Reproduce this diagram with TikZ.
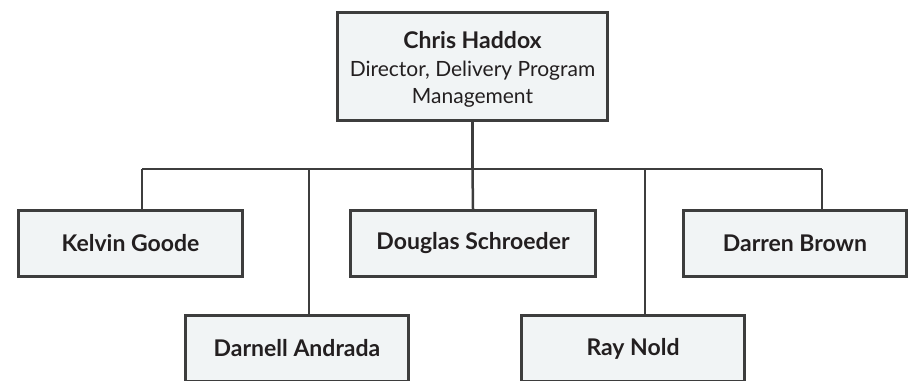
\documentclass[tikz,border=0pt]{standalone}
\usepackage{fontspec}
\setmainfont{Lato}
\definecolor{boxfill}{HTML}{F1F4F5}
\definecolor{boxline}{HTML}{3D3D3D}
\definecolor{ink}{HTML}{231F20}
\tikzset{
	person/.style={draw=boxline, line width=3pt, fill=boxfill, inner sep=0pt, minimum height=66pt, align=center, text=ink, font=\fontsize{23}{27}\selectfont\bfseries},
	link/.style={draw=boxline, line width=2.5pt}
}
\begin{document}
\begin{tikzpicture}[x=1pt,y=-1pt]
	\useasboundingbox (0,0) rectangle (909,380);
	% director
	\node[person, minimum width=270pt, minimum height=108pt] (chris) at (472.5,66.5) {\rule{0pt}{23pt}Chris Haddox\\[1pt] {\fontsize{21}{25}\selectfont\mdseries Director, Delivery Program}\\ {\fontsize{21}{25}\selectfont\mdseries Management}};
	% first row
	\node[person, minimum width=224pt] (kelvin) at (130.5,243.5) {Kelvin Goode};
	\node[person, minimum width=245pt] (douglas) at (473,243.5) {Douglas Schroeder};
	\node[person, minimum width=223pt] (darren) at (795,243.5) {Darren Brown};
	% second row
	\node[person, minimum width=223pt] (darnell) at (297,348.5) {Darnell Andrada};
	\node[person, minimum width=223pt] (ray) at (633,348.5) {Ray Nold};
	% bus
	\coordinate (tapK) at (142,169);
	\coordinate (tapDA) at (309,169);
	\coordinate (tapR) at (645,169);
	\coordinate (tapDB) at (822,169);
	\draw[link] (chris.south) -- (chris.south |- tapK);
	\draw[link] (tapK) -- (tapDB);
	\draw[link] (tapK) -- (tapK |- kelvin.north);
	\draw[link] (tapDA) -- (tapDA |- darnell.north);
	\draw[link] (chris.south |- tapK) -- (douglas.north);
	\draw[link] (tapR) -- (tapR |- ray.north);
	\draw[link] (tapDB) -- (tapDB |- darren.north);
\end{tikzpicture}
\end{document}
